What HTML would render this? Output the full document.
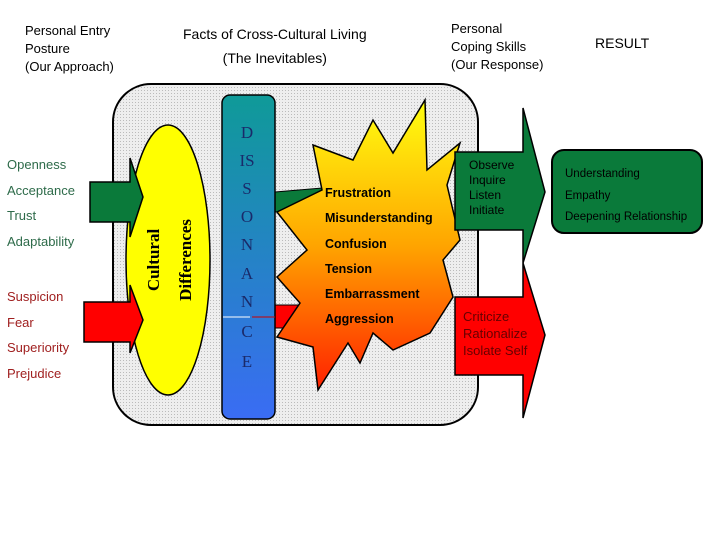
<!DOCTYPE html>
<html><head><meta charset="utf-8"><style>
body{margin:0;width:720px;height:540px;background:#fff;overflow:hidden;font-family:"Liberation Sans",sans-serif}
.t{position:absolute;font-size:13px;line-height:18px}
</style></head><body>
<svg width="720" height="540" style="position:absolute;left:0;top:0">
<defs>
<pattern id="dots" width="3" height="3" patternUnits="userSpaceOnUse"><rect width="3" height="3" fill="#eeeeee"/><rect width="1" height="1" fill="#bbbbbb"/></pattern>
<linearGradient id="bar" x1="0" y1="0" x2="0" y2="1"><stop offset="0" stop-color="#0f9a98"/><stop offset="1" stop-color="#3a6cf4"/></linearGradient>
<linearGradient id="star" x1="0" y1="0" x2="0" y2="1"><stop offset="0" stop-color="#ffff10"/><stop offset="0.5" stop-color="#ffa500"/><stop offset="1" stop-color="#ff2000"/></linearGradient>
</defs>
<rect x="113" y="84" width="365" height="341" rx="38" fill="url(#dots)" stroke="#000" stroke-width="2"/>
<ellipse cx="168" cy="260" rx="42" ry="135" fill="#ffff00" stroke="#000" stroke-width="1.5"/>
<!-- left arrows -->
<polygon points="90,182 130,182 130,158 143,197 130,237 130,222 90,222" fill="#0a7a3a" stroke="#000" stroke-width="1.5"/>
<polygon points="84,302 130,302 130,285 143,320 130,353 130,342 84,342" fill="#ff0000" stroke="#000" stroke-width="1.5"/>
<!-- bar arrows -->
<polygon points="275,192 322,188 322,210 275,212" fill="#0a7a3a" stroke="#000" stroke-width="1"/>
<polygon points="275,305 302,305 302,328 275,328" fill="#ff0000" stroke="#000" stroke-width="1"/>
<polygon points="313,145 353,160 373,120 393,153 425,100 427,170 460,143 447,185 460,240 443,260 453,297 430,333 393,350 373,333 360,363 348,343 318,390 313,347 277,337 300,303 277,277 307,250 277,212 322,190" fill="url(#star)" stroke="#000" stroke-width="1.5"/>
<rect x="222" y="95" width="53" height="324" rx="8" fill="url(#bar)" stroke="#000" stroke-width="1.5"/>
<line x1="223" y1="317" x2="250" y2="317" stroke="#fff" stroke-width="1"/>
<line x1="252" y1="317" x2="275" y2="317" stroke="#c00" stroke-width="1"/>
<!-- right arrows -->
<polygon points="455,152 523,152 523,108 545,192 523,263 523,230 455,230" fill="#0a7a3a" stroke="#000" stroke-width="1.5"/>
<polygon points="455,297 523,297 523,263 545,335 523,418 523,375 455,375" fill="#ff0000" stroke="#000" stroke-width="1.5"/>
<rect x="552" y="150" width="150" height="83" rx="12" fill="#0a7a3a" stroke="#000" stroke-width="2"/>
<g font-family="Liberation Serif,serif" font-size="17" fill="#1a2a6a" text-anchor="middle">
<text x="247" y="138">D</text><text x="247" y="166">IS</text><text x="247" y="194">S</text><text x="247" y="222">O</text><text x="247" y="250">N</text><text x="247" y="279">A</text><text x="247" y="307">N</text><text x="247" y="337">C</text><text x="247" y="367">E</text>
</g>
<g font-family="Liberation Serif,serif" font-size="17" font-weight="bold" fill="#000">
<text transform="translate(159,260) rotate(-90)" text-anchor="middle">Cultural</text>
<text transform="translate(191,260) rotate(-90)" text-anchor="middle">Differences</text>
</g>
<g font-size="12.5" font-weight="bold" fill="#000" font-family="Liberation Sans,sans-serif">
<text x="325" y="197">Frustration</text><text x="325" y="222">Misunderstanding</text><text x="325" y="248">Confusion</text><text x="325" y="273">Tension</text><text x="325" y="298">Embarrassment</text><text x="325" y="323">Aggression</text>
</g>
</svg>
<div class="t" style="left:25px;top:22px">Personal Entry<br>Posture<br>(Our Approach)</div>
<div class="t" style="left:183px;top:22px;font-size:14px;text-align:center;line-height:24px">Facts of Cross-Cultural Living<br>(The Inevitables)</div>
<div class="t" style="left:451px;top:20px">Personal<br>Coping Skills<br>(Our Response)</div>
<div class="t" style="left:595px;top:34px;font-size:14px">RESULT</div>
<div class="t" style="left:7px;top:152px;color:#2e6b4a;line-height:25.5px">Openness<br>Acceptance<br>Trust<br>Adaptability</div>
<div class="t" style="left:7px;top:284px;color:#a02020;line-height:25.5px">Suspicion<br>Fear<br>Superiority<br>Prejudice</div>
<div class="t" style="left:469px;top:158px;font-size:12px;line-height:15px;color:#000">Observe<br>Inquire<br>Listen<br>Initiate</div>
<div class="t" style="left:463px;top:308px;font-size:13px;line-height:17px;color:#600">Criticize<br>Rationalize<br>Isolate Self</div>
<div class="t" style="left:565px;top:164px;font-size:11.5px;line-height:21.5px;color:#000">Understanding<br>Empathy<br>Deepening Relationship</div>
</body></html>
